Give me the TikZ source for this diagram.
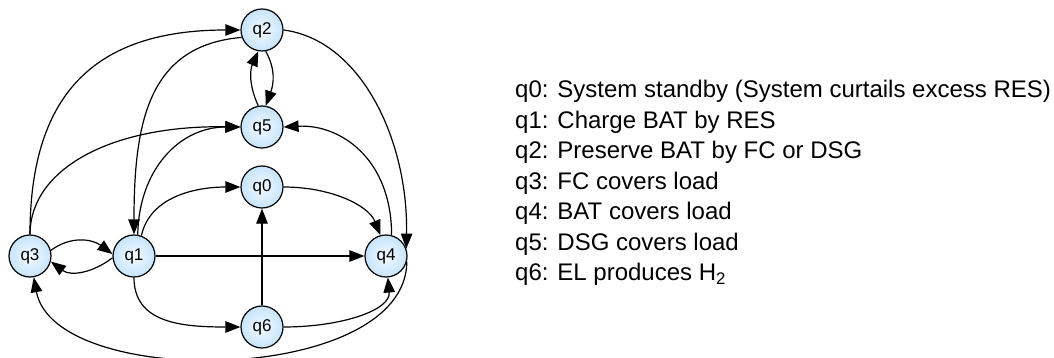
\documentclass[tikz,border=0pt]{standalone}
\usepackage{fontspec}
\setmainfont{Liberation Sans}
\usepackage{xcolor}
\usepackage{tikz}
\usetikzlibrary{arrows.meta,positioning}
\definecolor{nodein}{HTML}{F4FAFF}
\definecolor{nodeout}{HTML}{C6E4FB}
\definecolor{edgec}{HTML}{000000}
\tikzset{
  state/.style={circle,draw=black,line width=1.2pt,shading=radial,
    inner color=nodein,outer color=nodeout,minimum size=42pt,inner sep=0pt,
    font=\fontsize{17}{20}\selectfont},
  flow/.style={-{Triangle[length=15pt,width=11.5pt]},line width=1.2pt,draw=edgec},
  legendtxt/.style={inner sep=0pt,anchor=base west,
    font=\fontsize{24}{30}\selectfont},
}
\begin{document}
\begin{tikzpicture}[x=1pt,y=1pt]
  \useasboundingbox (0,0) rectangle (1054,-358);
  % states
  \node[state] (q2) at (262,-30) {q2};
  \node[state] (q5) at (262,-127) {q5};
  \node[state] (q0) at (262,-187) {q0};
  \node[state] (q3) at (30,-256) {q3};
  \node[state] (q1) at (134,-256) {q1};
  \node[state] (q4) at (386,-256) {q4};
  \node[state] (q6) at (262,-327) {q6};
  % transitions
  \draw[flow] (q3.north) .. controls +(0,145) and +(-141,0) .. (q2.west);
  \draw[flow] (q2.200) .. controls +(-92,-8) and +(0,115) .. (q1.north);
  \draw[flow] (q2.east) .. controls +(77,-10) and +(2,109) .. (q4.20);
  \draw[flow] (q5.100) .. controls +(-10,22) and +(-8,-18) .. (q2.260);
  \draw[flow] (q2.-80) .. controls +(10,-18) and +(8,22) .. (q5.80);
  \draw[flow] (q3.north) .. controls +(0,65) and +(-130,2) .. (q5.west);
  \draw[flow] (q1.80) .. controls +(1,65) and +(-61,0) .. (q5.west);
  \draw[flow] (q4.75) .. controls +(0,76) and +(57,3) .. (q5.east);
  \draw[flow] (q1.70) .. controls +(9,41) and +(-41,0) .. (q0.west);
  \draw[flow] (q0.east) .. controls +(47,0) and +(-12,30) .. (q4.105);
  \draw[flow] (q3.15) .. controls +(20,15) and +(-20,15) .. (q1.175);
  \draw[flow] (q1.-175) .. controls +(-20,-15) and +(20,-15) .. (q3.-15);
  \draw[flow] (q1.east) -- (q4.west);
  \draw[flow] (q6.north) -- (q0.south);
  \draw[flow] (q1.south) .. controls +(0,-45) and +(-60,0) .. (q6.west);
  \draw[flow] (q6.east) .. controls +(57,0) and +(3,-33) .. (q4.-85);
  \draw[flow] (q4.-15) .. controls +(-1,-124) and +(21,-113) .. (q3.-80);
  % legend
  \foreach \txt [count=\i from 0] in {q0: System standby (System curtails excess RES),
      q1: Charge BAT by RES, q2: Preserve BAT by FC or DSG, q3: FC covers load,
      q4: BAT covers load, q5: DSG covers load, q6: EL produces H\textsubscript{2}}
    \node[legendtxt] (leg\i) at (515,-98-30.4*\i) {\txt};
\end{tikzpicture}
\end{document}
